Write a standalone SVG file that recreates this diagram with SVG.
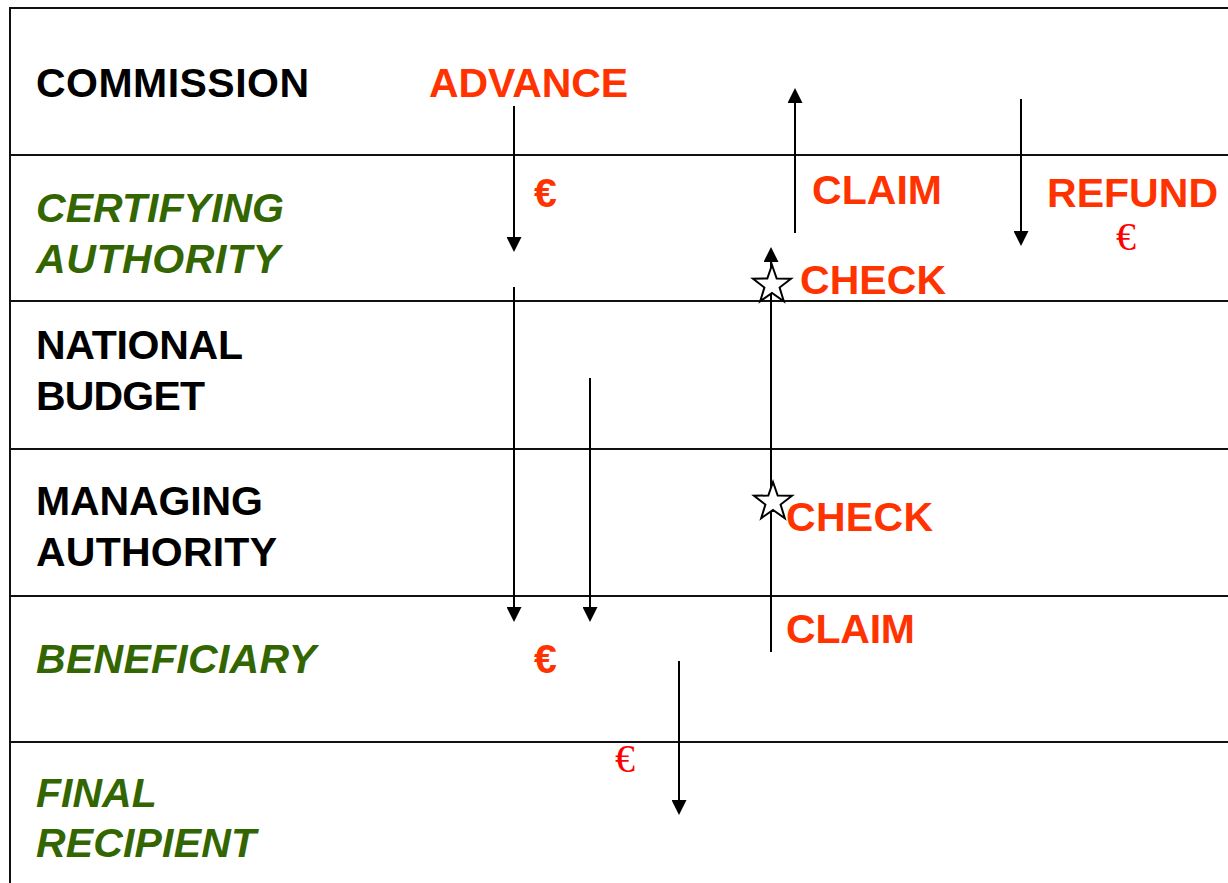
<svg xmlns="http://www.w3.org/2000/svg" width="1228" height="883" viewBox="0 0 1228 883">
<style>
.lane{fill:none;stroke:#111;stroke-width:2}
.lbl{font-family:"Liberation Sans",Arial,sans-serif;font-weight:bold;font-size:41px;fill:#000}
.grn{fill:#336600;font-style:italic}
.act{font-family:"Liberation Sans",Arial,sans-serif;font-weight:bold;font-size:41px;fill:#FF3300}
.eur{font-family:"Liberation Serif","Times New Roman",serif;font-size:40px;fill:#FF0000}
.arr{stroke:#000;stroke-width:2;fill:none;marker-end:url(#ah)}
.star{fill:#fff;stroke:#000;stroke-width:2}
</style>
<defs>
<marker id="ah" viewBox="0 0 15 15" refX="5" refY="7.5" markerWidth="15" markerHeight="15" markerUnits="userSpaceOnUse" orient="auto">
<path d="M0,0 L15,7.5 L0,15 z" fill="#000"/>
</marker>
<polygon id="st" points="0,-20 4.7,-6.5 19,-6.2 7.6,2.5 11.8,16.2 0,8 -11.8,16.2 -7.6,2.5 -19,-6.2 -4.7,-6.5"/>
</defs>
<rect width="1228" height="883" fill="#fff"/>
<g id="frame">
<path class="lane" d="M10,900 V8 H1240"/>
</g>
<g id="commission">
<text class="lbl" x="36" y="97" textLength="273">COMMISSION</text>
</g>
<g id="certifying-authority">
<line class="lane" x1="10" y1="155" x2="1240" y2="155"/>
<text class="lbl grn" x="36" y="222" textLength="248">CERTIFYING</text>
<text class="lbl grn" x="36" y="273" textLength="244">AUTHORITY</text>
</g>
<g id="national-budget">
<line class="lane" x1="10" y1="301" x2="1240" y2="301"/>
<text class="lbl" x="36" y="359" textLength="207">NATIONAL</text>
<text class="lbl" x="36" y="410" textLength="169">BUDGET</text>
</g>
<g id="managing-authority">
<line class="lane" x1="10" y1="449" x2="1240" y2="449"/>
<text class="lbl" x="36" y="515" textLength="227">MANAGING</text>
<text class="lbl" x="36" y="566" textLength="241">AUTHORITY</text>
</g>
<g id="beneficiary">
<line class="lane" x1="10" y1="596" x2="1240" y2="596"/>
<text class="lbl grn" x="36" y="673" textLength="280">BENEFICIARY</text>
</g>
<g id="final-recipient">
<line class="lane" x1="10" y1="742" x2="1240" y2="742"/>
<text class="lbl grn" x="36" y="807">FINAL</text>
<text class="lbl grn" x="36" y="857" textLength="220">RECIPIENT</text>
</g>
<g id="connectors">
<line class="arr" x1="514" y1="106" x2="514" y2="242"/>
<line class="arr" x1="514" y1="287" x2="514" y2="612"/>
<line class="arr" x1="590" y1="378" x2="590" y2="612"/>
<line class="arr" x1="679" y1="661" x2="679" y2="805"/>
<line class="arr" x1="795" y1="233" x2="795" y2="98"/>
<line class="arr" x1="771" y1="652" x2="771" y2="257"/>
<line class="arr" x1="1021" y1="99" x2="1021" y2="236"/>
</g>
<g id="labels">
<text class="act" x="429" y="97" textLength="199">ADVANCE</text>
<text class="act" x="534" y="207">€</text>
<text class="act" x="812" y="204" textLength="130">CLAIM</text>
<text class="act" x="1047" y="207" textLength="171">REFUND</text>
<text class="eur" x="1116" y="250">€</text>
<use href="#st" class="star" x="772" y="285"/>
<text class="act" x="800" y="294" textLength="146">CHECK</text>
<use href="#st" class="star" x="773" y="502"/>
<text class="act" x="786" y="531" textLength="147">CHECK</text>
<text class="act" x="786" y="643" textLength="129">CLAIM</text>
<text class="act" x="534" y="673">€</text>
<text class="eur" x="615" y="772">€</text>
</g>
</svg>
